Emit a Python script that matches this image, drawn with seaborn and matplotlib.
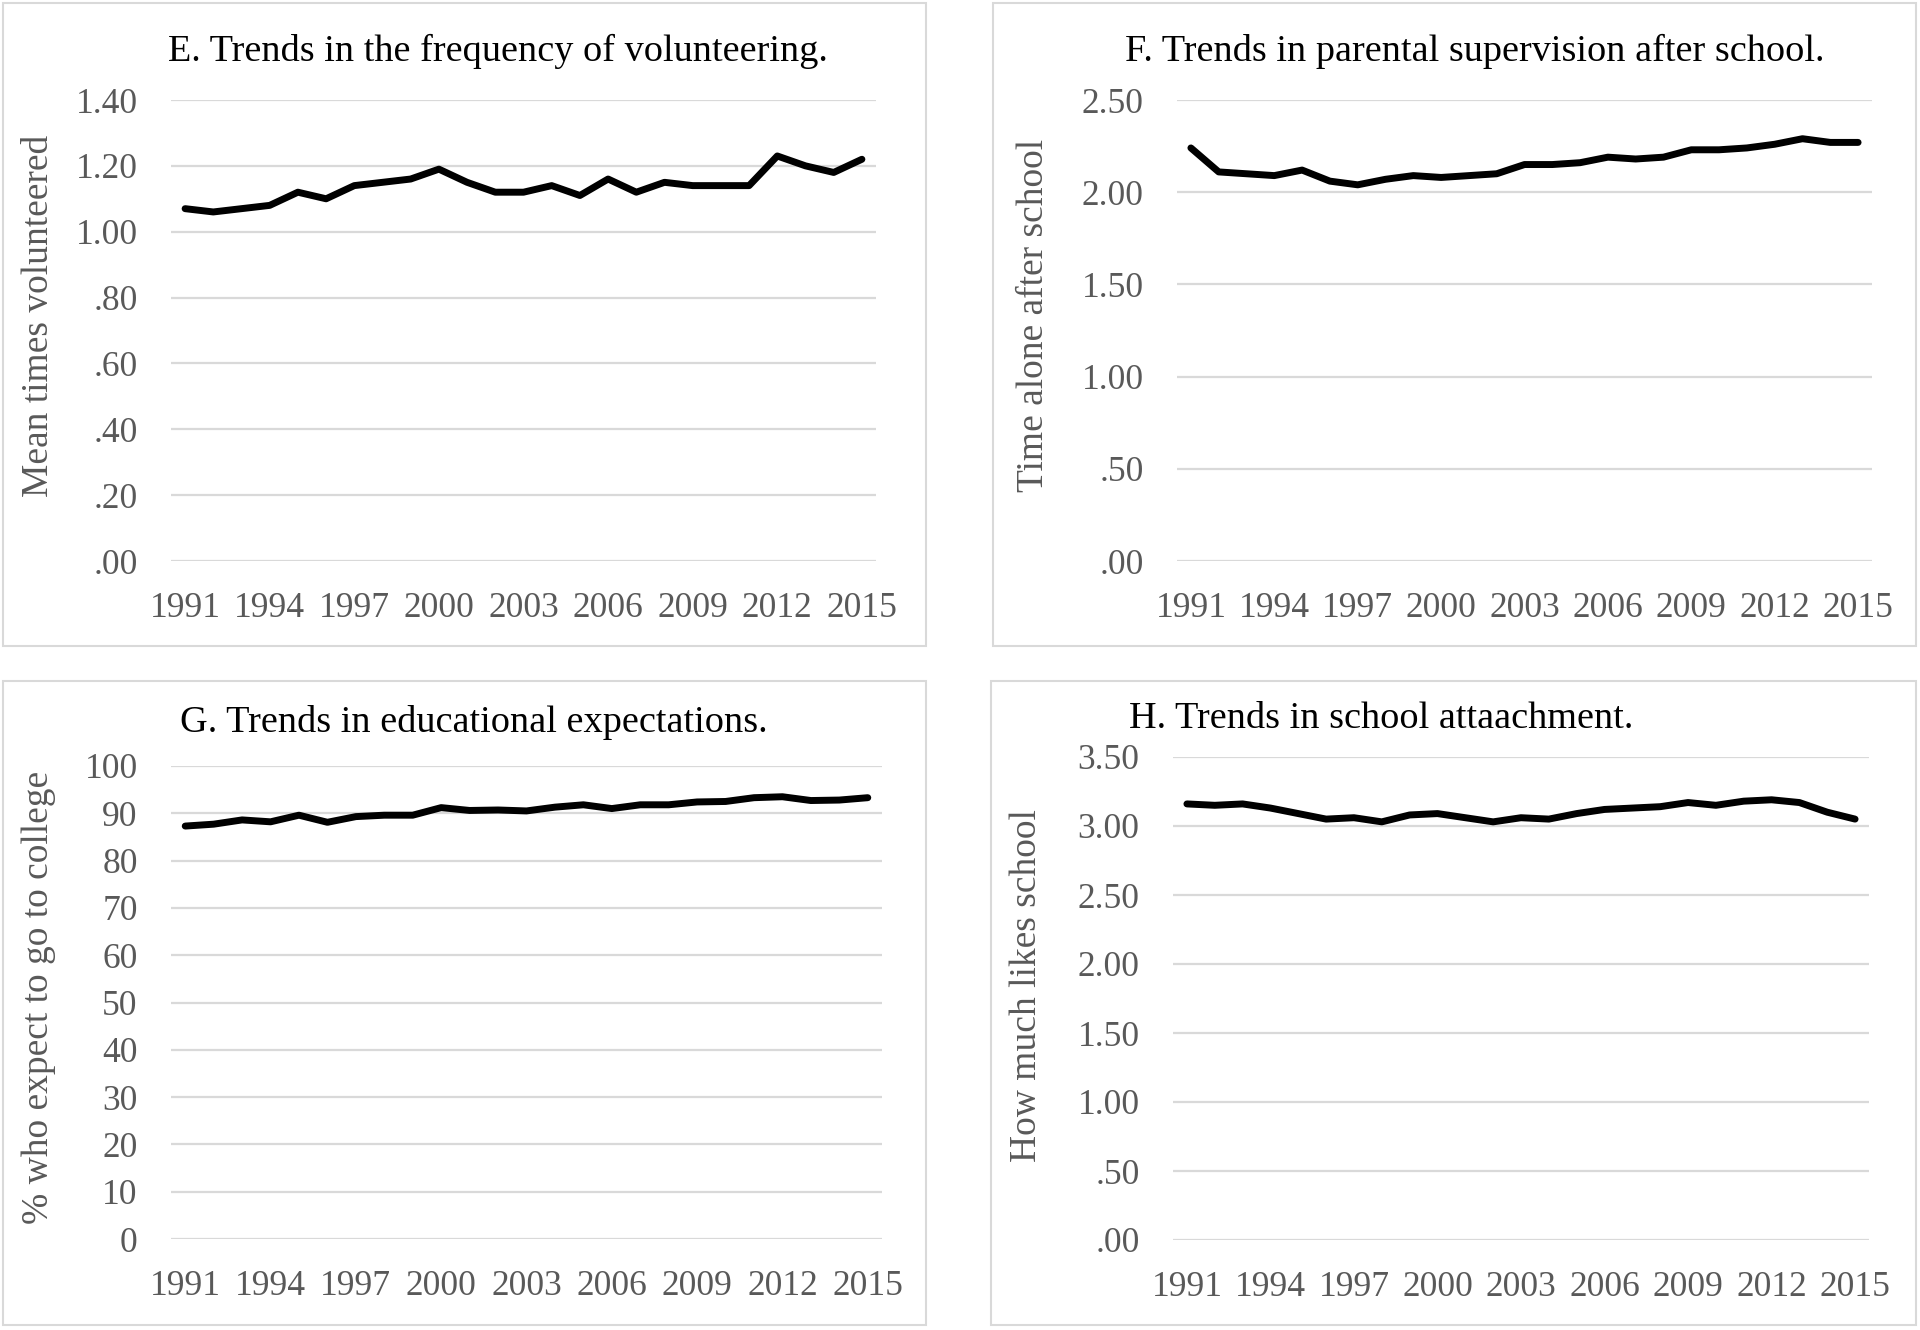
import numpy as np
import seaborn as sns
import matplotlib.pyplot as plt
from matplotlib.patches import Rectangle
from matplotlib.ticker import FuncFormatter, MultipleLocator

W, H = 1920, 1330

years = list(range(1991, 2016))
year_ticks = list(range(1991, 2016, 3))

volunteering = [1.07, 1.06, 1.07, 1.08, 1.12, 1.10, 1.14, 1.15, 1.16, 1.19,
                1.15, 1.12, 1.12, 1.14, 1.11, 1.16, 1.12, 1.15, 1.14, 1.14,
                1.14, 1.23, 1.20, 1.18, 1.22]
supervision = [2.24, 2.11, 2.10, 2.09, 2.12, 2.06, 2.04, 2.07, 2.09, 2.08,
               2.09, 2.10, 2.15, 2.15, 2.16, 2.19, 2.18, 2.19, 2.23, 2.23,
               2.24, 2.26, 2.29, 2.27, 2.27]
expectations = [87.3, 87.7, 88.6, 88.2, 89.6, 88.1, 89.3, 89.6, 89.6, 91.2,
                90.6, 90.7, 90.5, 91.3, 91.8, 91.0, 91.8, 91.8, 92.4, 92.5,
                93.3, 93.5, 92.7, 92.8, 93.3]
attachment = [3.16, 3.15, 3.16, 3.13, 3.09, 3.05, 3.06, 3.03, 3.08, 3.09,
              3.06, 3.03, 3.06, 3.05, 3.09, 3.12, 3.13, 3.14, 3.17, 3.15,
              3.18, 3.19, 3.17, 3.10, 3.05]

titles = [
    "E. Trends in the frequency of volunteering.",
    "F. Trends in parental supervision after school.",
    "G. Trends in educational expectations.",
    "H. Trends in school attaachment.",
]
ylabels = [
    "Mean times volunteered",
    "Time alone after school",
    "% who expect to go to college",
    "How much likes school",
]

GRID = "#d9d9d9"
TEXT = "#595959"

sns.set_theme(style="white")
plt.rcParams["font.family"] = ["Liberation Serif", "DejaVu Serif"]

fig = plt.figure(figsize=(W / 100, H / 100), dpi=100)


def px_axes(x0, y0, x1, y1):
    # pixel box (top-left origin) -> figure fraction
    return fig.add_axes([x0 / W, 1 - y1 / H, (x1 - x0) / W, (y1 - y0) / H])


def decimal_fmt(v, _):
    return f"{v:.2f}".lstrip("0") if v < 1 else f"{v:.2f}"


panels = [
    # data, ymax, step, formatter, axes box, border box, title xy, ylabel xy
    (volunteering, 1.4, 0.2, decimal_fmt, (171, 100, 876, 561),
     (3, 3, 926, 646), (498, 51), (39, 316)),
    (supervision, 2.5, 0.5, decimal_fmt, (1177, 100, 1872, 561),
     (993, 3, 1916, 646), (1475, 51), (1034, 315)),
    (expectations, 100, 10, lambda v, _: f"{v:.0f}", (171, 766, 882, 1239),
     (3, 681, 926, 1325), (474, 723), (39, 997)),
    (attachment, 3.5, 0.5, decimal_fmt, (1173, 757, 1869, 1240),
     (991, 681, 1916, 1325), (1381, 719), (1027, 986)),
]

for i, (vals, ymax, step, fmt, box, border, tpos, lpos) in enumerate(panels):
    bx0, by0, bx1, by1 = border
    fig.add_artist(Rectangle((bx0 / W, 1 - by1 / H), (bx1 - bx0) / W,
                             (by1 - by0) / H, transform=fig.transFigure,
                             fill=False, edgecolor=GRID, linewidth=1.5))

    ax = px_axes(*box)
    sns.lineplot(x=years, y=vals, ax=ax, color="black", linewidth=5.0,
                 solid_capstyle="round", solid_joinstyle="round")
    ax.set_xlim(1990.5, 2015.5)
    ax.set_ylim(0, ymax)
    ax.yaxis.set_major_locator(MultipleLocator(step))
    ax.yaxis.set_major_formatter(FuncFormatter(fmt))
    ax.set_xticks(year_ticks)
    ax.set_xticklabels([str(y) for y in year_ticks])
    ax.yaxis.grid(True, color=GRID, linewidth=1.6)
    ax.xaxis.grid(False)
    ax.set_axisbelow(True)
    sns.despine(ax=ax, left=True, bottom=True)
    ax.tick_params(axis="y", length=0, labelsize=25.5, labelcolor=TEXT, pad=24)
    ax.tick_params(axis="x", length=0, labelsize=25.5, labelcolor=TEXT, pad=22)
    ax.set_xlabel("")
    ax.set_ylabel("")

    fig.text(tpos[0] / W, 1 - tpos[1] / H, titles[i], ha="center",
             va="center", fontsize=27.5, color="black")
    fig.text(lpos[0] / W, 1 - lpos[1] / H, ylabels[i], ha="center",
             va="center", rotation=90, fontsize=27, color=TEXT)

fig.savefig("out.png", dpi=100, facecolor="white")
